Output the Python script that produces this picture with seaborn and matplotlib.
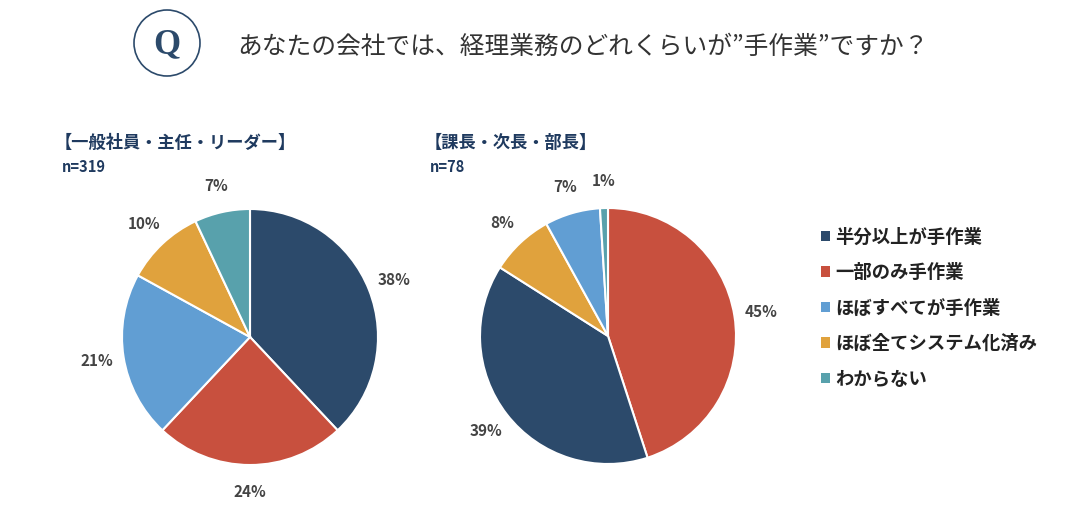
import matplotlib
matplotlib.use("Agg")
import matplotlib.pyplot as plt
from matplotlib.patches import Circle, Patch
import seaborn as sns

# data
categories = ['半分以上が手作業', '一部のみ手作業', 'ほぼすべてが手作業', 'ほぼ全てシステム化済み', 'わからない']
staff_values = [38, 24, 21, 10, 7]
manager_values = [39, 45, 7, 8, 1]
group_titles = ['【一般社員・主任・リーダー】', '【課長・次長・部長】']
group_n = ['n=319', 'n=78']
question = 'あなたの会社では、経理業務のどれくらいが”手作業”ですか？'

sns.set_theme(style="white")
plt.rcParams['font.family'] = ['Noto Sans CJK JP', 'DejaVu Sans']

palette = sns.color_palette(['#2C4A6B', '#C8503E', '#619ED3', '#E0A23D', '#58A1AC'])
color_map = dict(zip(categories, palette))

W, H = 1071, 515
fig = plt.figure(figsize=(W / 100, H / 100), dpi=100)
fig.patch.set_facecolor('white')


def px(x, y):
    return x / W, 1 - y / H


def draw_pie(values, cx, cy, r=128, lim=1.35):
    # largest slice first, colours stay with their category
    pairs = sorted(zip(categories, values), key=lambda p: -p[1])
    vals = [v for _, v in pairs]
    cols = [color_map[c] for c, _ in pairs]
    half = lim * r
    ax = fig.add_axes([(cx - half) / W, (H - cy - half) / H, 2 * half / W, 2 * half / H])
    ax.pie(vals, colors=cols, startangle=90, counterclock=False,
           autopct=lambda p: f'{p:.0f}%', pctdistance=1.21,
           wedgeprops=dict(edgecolor='white', linewidth=1.5),
           textprops=dict(fontsize=11, fontweight='bold', color='#444444'))
    ax.set_xlim(-lim, lim)
    ax.set_ylim(-lim, lim)
    ax.set_aspect('equal')
    ax.axis('off')
    return ax


draw_pie(staff_values, 250, 337)
draw_pie(manager_values, 608, 336)

# question header with circled Q
circ = Circle((167 / 100, (H - 43) / 100), 33 / 100, transform=fig.dpi_scale_trans,
              fill=False, edgecolor='#2C4A6B', linewidth=1.2)
fig.patches.append(circ)
fig.text(*px(167, 45), 'Q', ha='center', va='center', fontsize=25, fontweight='bold',
         family='Liberation Serif', color='#2C4A6B')
fig.text(*px(237, 47), question, ha='left', va='center', fontsize=17.8, color='#333333')

# group titles
for (x, xn), t, n in zip([(55, 62), (425, 430)], group_titles, group_n):
    fig.text(*px(x, 143), t, ha='left', va='center', fontsize=12.4, fontweight='bold', color='#1F3A5F')
    fig.text(*px(xn, 167), n, ha='left', va='center', fontsize=10.5, fontweight='bold', color='#1F3A5F')

handles = [Patch(facecolor=color_map[c], edgecolor='none') for c in categories]
fig.legend(handles, categories, loc='upper left', bbox_to_anchor=px(804, 211),
           frameon=False, handlelength=0.5, handleheight=0.5, handletextpad=0.3,
           labelspacing=0.9, prop=dict(size=13.2, weight='bold'), labelcolor='#222222')

fig.savefig('out.png', dpi=100, facecolor='white')
